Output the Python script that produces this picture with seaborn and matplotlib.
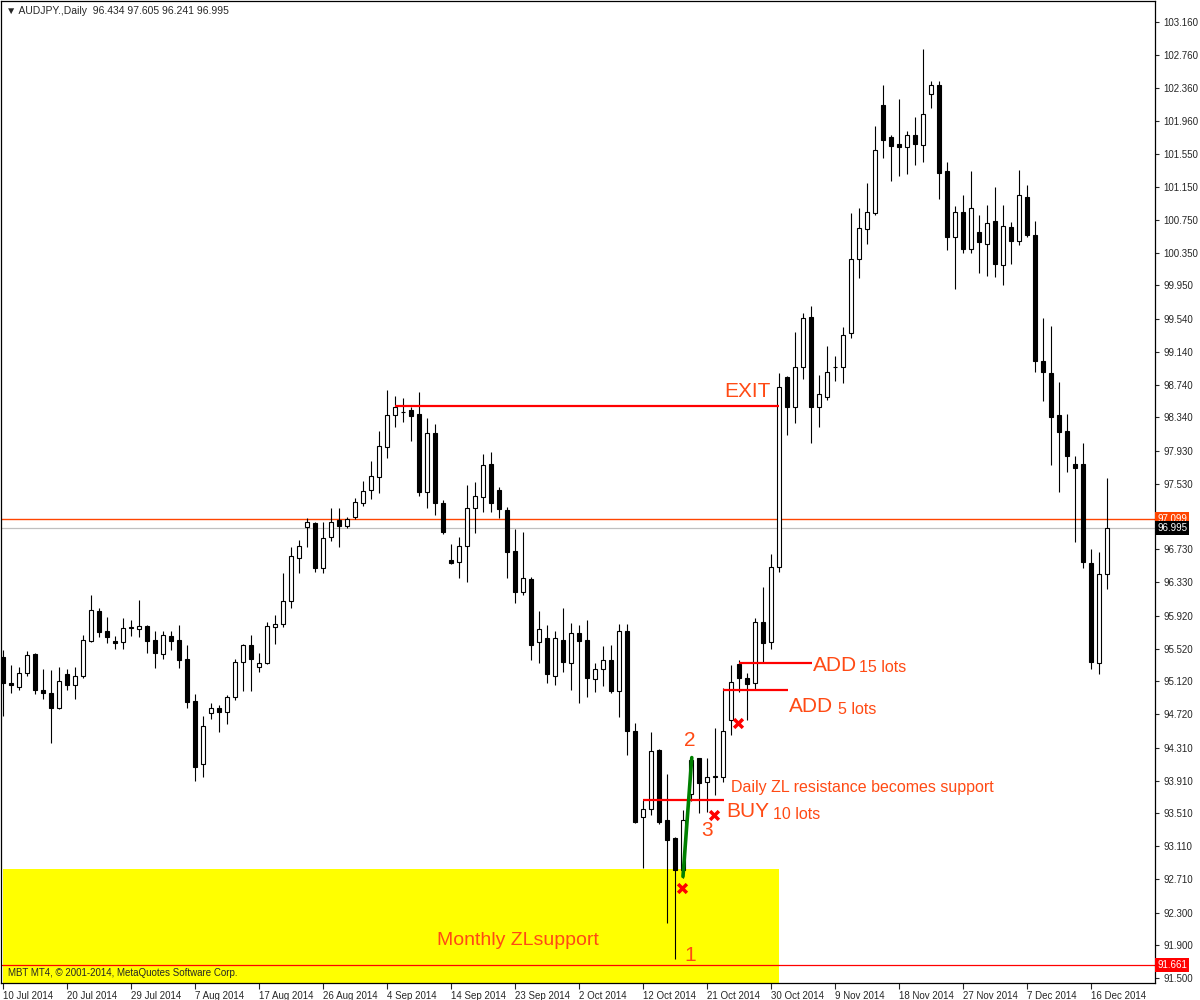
import matplotlib
matplotlib.use("Agg")
import matplotlib.pyplot as plt
import matplotlib.transforms as mtransforms
import seaborn as sns
import numpy as np
import pandas as pd

# daily AUDJPY candles, 10 Jul 2014 .. 18 Dec 2014
opens = [95.42, 95.10, 95.05, 95.22, 95.45, 95.02, 94.98, 94.80, 95.21, 95.08,
         95.18, 95.61, 95.98, 95.74, 95.61, 95.60, 95.77, 95.76, 95.80, 95.62,
         95.45, 95.67, 95.62, 95.39, 94.88, 94.11, 94.73, 94.79, 94.74, 94.93,
         95.35, 95.56, 95.30, 95.34, 95.78, 95.82, 96.10, 96.63, 97.00, 97.05,
         96.50, 96.88, 97.09, 97.01, 97.13, 97.29, 97.46, 97.61, 97.98, 98.37,
         98.41, 98.43, 98.38, 97.43, 98.15, 97.29, 96.60, 96.57, 96.77, 97.23,
         97.37, 97.77, 97.45, 97.21, 96.71, 96.21, 96.37, 95.60, 95.65, 95.18,
         95.63, 95.34, 95.71, 95.63, 95.15, 95.27, 95.38, 95.00, 95.73, 94.51,
         93.46, 93.56, 94.28, 93.43, 93.21, 92.82, 93.75, 94.18, 93.89, 93.95,
         93.95, 94.65, 95.33, 95.16, 95.10, 95.84, 95.60, 96.51, 98.83, 98.47,
         98.96, 99.57, 98.47, 98.59, 98.95, 98.96, 99.37, 100.27, 100.64, 100.83,
         102.15, 101.76, 101.68, 101.64, 101.78, 101.66, 102.29, 102.40, 101.34, 100.54,
         100.84, 100.40, 100.60, 100.45, 100.74, 100.20, 100.66, 100.49, 101.03, 100.56,
         99.03, 98.88, 98.37, 98.18, 97.77, 97.77, 96.56, 95.34, 96.434]
highs = [95.50, 95.32, 95.29, 95.49, 95.47, 95.27, 95.26, 95.30, 95.27, 95.29,
         95.69, 96.17, 96.01, 95.91, 95.67, 95.89, 95.87, 96.11, 95.81, 95.74,
         95.73, 95.74, 95.81, 95.56, 94.96, 94.70, 94.85, 94.83, 94.95, 95.39,
         95.57, 95.68, 95.46, 95.85, 95.93, 96.44, 96.76, 96.85, 97.11, 97.07,
         97.06, 97.23, 97.23, 97.13, 97.36, 97.57, 97.81, 98.18, 98.67, 98.60,
         98.58, 98.47, 98.65, 98.33, 98.26, 97.33, 96.79, 96.88, 97.51, 97.55,
         97.89, 97.92, 97.49, 97.25, 96.98, 96.94, 96.39, 95.98, 95.81, 95.74,
         96.01, 95.83, 95.81, 95.87, 95.34, 95.55, 95.56, 95.82, 95.82, 94.61,
         93.67, 94.50, 94.29, 93.99, 93.22, 93.55, 94.19, 94.19, 94.18, 94.55,
         95.04, 95.32, 95.38, 95.22, 95.89, 96.27, 96.67, 98.88, 98.85, 99.38,
         99.61, 99.70, 98.86, 99.21, 99.09, 99.44, 100.83, 100.90, 101.20, 101.90,
         102.39, 101.78, 102.22, 101.84, 102.00, 102.83, 102.45, 102.45, 101.45, 100.92,
         101.05, 101.34, 100.81, 100.93, 101.15, 100.93, 100.72, 101.36, 101.17, 100.73,
         99.55, 99.45, 98.77, 98.38, 97.87, 98.03, 96.73, 96.70, 97.605]
lows = [94.70, 94.98, 95.02, 95.19, 94.96, 94.90, 94.37, 94.78, 95.01, 94.91,
        95.16, 95.60, 95.66, 95.59, 95.52, 95.52, 95.67, 95.66, 95.46, 95.28,
        95.39, 95.50, 95.28, 94.80, 93.91, 93.95, 94.66, 94.50, 94.60, 94.89,
        95.00, 95.00, 95.24, 95.33, 95.57, 95.78, 96.01, 96.44, 96.76, 96.45,
        96.44, 96.83, 96.76, 96.99, 97.10, 97.26, 97.34, 97.42, 97.85, 98.22,
        98.29, 98.05, 97.38, 97.23, 97.15, 96.92, 96.55, 96.38, 96.33, 96.93,
        97.18, 97.18, 97.11, 96.38, 96.08, 96.17, 95.38, 95.34, 95.10, 95.08,
        95.24, 95.01, 94.85, 94.93, 94.99, 95.06, 94.98, 94.68, 94.22, 93.39,
        92.84, 93.49, 93.38, 92.17, 91.73, 92.72, 93.66, 93.52, 93.53, 93.73,
        93.89, 94.47, 94.99, 94.65, 95.01, 95.35, 95.51, 96.45, 98.13, 98.27,
        98.81, 98.03, 98.22, 98.55, 98.78, 98.76, 99.31, 100.04, 100.45, 100.81,
        101.51, 101.22, 101.29, 101.31, 101.42, 101.45, 102.12, 101.00, 100.38, 99.91,
        100.34, 100.34, 100.10, 100.07, 100.05, 99.96, 100.21, 100.44, 100.54, 98.89,
        98.54, 97.76, 97.43, 97.68, 96.82, 96.50, 95.27, 95.21, 96.241]
closes = [95.10, 95.08, 95.22, 95.44, 95.02, 94.98, 94.79, 95.13, 95.08, 95.19,
          95.62, 95.99, 95.72, 95.66, 95.59, 95.77, 95.78, 95.80, 95.61, 95.46,
          95.68, 95.61, 95.38, 94.87, 94.08, 94.58, 94.79, 94.74, 94.93, 95.35,
          95.56, 95.39, 95.34, 95.79, 95.82, 96.10, 96.65, 96.77, 97.06, 96.50,
          96.87, 97.07, 97.01, 97.10, 97.31, 97.44, 97.62, 97.99, 98.37, 98.47,
          98.40, 98.36, 97.43, 98.15, 97.29, 96.94, 96.56, 96.77, 97.23, 97.38,
          97.76, 97.29, 97.22, 96.70, 96.21, 96.38, 95.56, 95.76, 95.21, 95.65,
          95.35, 95.71, 95.61, 95.16, 95.27, 95.38, 95.00, 95.73, 94.51, 93.41,
          93.56, 94.27, 93.40, 93.19, 92.82, 93.43, 94.16, 93.88, 93.95, 93.96,
          94.51, 95.11, 95.16, 95.09, 95.84, 95.59, 96.51, 98.71, 98.47, 98.96,
          99.55, 98.47, 98.63, 98.89, 98.96, 99.34, 100.27, 100.65, 100.85, 101.60,
          101.73, 101.65, 101.64, 101.78, 101.68, 102.04, 102.40, 101.32, 100.54, 100.84,
          100.40, 100.90, 100.48, 100.71, 100.21, 100.67, 100.49, 101.05, 100.56, 99.03,
          98.89, 98.34, 98.16, 97.87, 97.72, 96.57, 95.35, 96.43, 96.995]

date_labels = ["10 Jul 2014", "20 Jul 2014", "29 Jul 2014", "7 Aug 2014", "17 Aug 2014",
               "26 Aug 2014", "4 Sep 2014", "14 Sep 2014", "23 Sep 2014", "2 Oct 2014",
               "12 Oct 2014", "21 Oct 2014", "30 Oct 2014", "9 Nov 2014", "18 Nov 2014",
               "27 Nov 2014", "7 Dec 2014", "16 Dec 2014"]
price_ticks = [103.160, 102.760, 102.360, 101.960, 101.550, 101.150, 100.750, 100.350,
               99.950, 99.540, 99.140, 98.740, 98.340, 97.930, 97.530, 97.130, 96.730,
               96.330, 95.920, 95.520, 95.120, 94.720, 94.310, 93.910, 93.510, 93.110,
               92.710, 92.300, 91.900, 91.500]

# drawn levels / annotations
ask_line = 97.099
bid_line = 96.995
monthly_low = 91.661
zone_top = 92.83
exit_level = 98.48
add15_level = 95.34
add5_level = 95.02
buy_level = 93.67
swing_x = [85, 86.1]
swing_y = [92.74, 94.19]
cross_x = [84.9, 88.9, 91.9]
cross_y = [92.60, 93.49, 94.61]

sns.set_style("white")
plt.rcParams['font.family'] = ['Liberation Sans', 'DejaVu Sans']

df = pd.DataFrame({"open": opens, "high": highs, "low": lows, "close": closes})
df["bar"] = np.arange(len(df))
up = df[df.close >= df.open]
down = df[df.close < df.open]

fig = plt.figure(figsize=(12, 10), dpi=100)
ax = fig.add_axes([0.0008, 0.017, 0.9617, 0.982])

orange = "#FF4A14"

# yellow monthly support zone
ax.fill_between([0, 97], 90.0, zone_top, color="#FFFF00", lw=0, zorder=0)

ax.axhline(ask_line, color="#FF4500", lw=1.0, zorder=1)
ax.axhline(bid_line, color="#C0C0C0", lw=0.9, zorder=1)
ax.axhline(monthly_low, color="#FF0000", lw=0.9, zorder=1)

# candles
ax.vlines(df.bar, df.low, df.high, color="black", lw=0.8, zorder=2)
ax.bar(up.bar, up.close - up.open, bottom=up.open, width=0.6,
       color="white", edgecolor="black", lw=0.8, zorder=3)
ax.bar(down.bar, down.open - down.close, bottom=down.close, width=0.6,
       color="black", edgecolor="black", lw=0.8, zorder=3)

# trade levels
ax.hlines(exit_level, 49, 97, color="#FF0000", lw=1.6, zorder=4)
ax.hlines(add15_level, 92, 101.1, color="#FF0000", lw=1.6, zorder=4)
ax.hlines(add5_level, 90, 98.1, color="#FF0000", lw=1.6, zorder=4)
ax.hlines(buy_level, 80, 90.1, color="#FF0000", lw=1.6, zorder=4)

sns.lineplot(x=swing_x, y=swing_y, color="#008000", lw=2.6, sort=False, ax=ax, zorder=5)
sns.scatterplot(x=cross_x, y=cross_y, marker="x", s=40, color="#FF0000",
                linewidth=2.5, ax=ax, zorder=6)

ax.text(90.1, 98.65, "EXIT", color=orange, fontsize=15, va="center", ha="left")
ax.text(101.25, 95.31, "ADD", color=orange, fontsize=15, va="center", ha="left")
ax.text(107.0, 95.29, "15 lots", color=orange, fontsize=11.5, va="center", ha="left")
ax.text(98.25, 94.81, "ADD", color=orange, fontsize=15, va="center", ha="left")
ax.text(104.4, 94.78, "5 lots", color=orange, fontsize=11.5, va="center", ha="left")
ax.text(91.0, 93.83, "Daily ZL resistance becomes support", color=orange,
        fontsize=11.5, va="center", ha="left")
ax.text(90.4, 93.53, "BUY", color=orange, fontsize=15, va="center", ha="left")
ax.text(96.25, 93.49, "10 lots", color=orange, fontsize=11.5, va="center", ha="left")
ax.text(85.9, 94.40, "2", color=orange, fontsize=15, va="center", ha="center")
ax.text(88.0, 93.30, "3", color=orange, fontsize=15, va="center", ha="center")
ax.text(85.9, 91.78, "1", color=orange, fontsize=15, va="center", ha="center")
ax.text(54.25, 91.96, "Monthly ZLsupport", color=orange, fontsize=14,
        va="center", ha="left")

ax.text(0.004, 0.995, "\u25BC AUDJPY.,Daily  96.434 97.605 96.241 96.995",
        transform=ax.transAxes, fontsize=7.5, va="top", ha="left")
ax.text(0.006, 0.010, "MBT MT4, \u00A9 2001-2014, MetaQuotes Software Corp.",
        transform=ax.transAxes, fontsize=7, va="center", ha="left")

# axes
ax.set_xlim(-0.25, 144)
ax.set_ylim(91.44, 103.42)
ax.set_xticks(np.arange(len(date_labels)) * 8)
ax.set_xticklabels(date_labels, ha="left", fontsize=7)
ax.yaxis.tick_right()
ax.set_yticks(price_ticks)
# 97.130 sits under the ask-price box, as on the terminal scale
ax.set_yticklabels(["" if abs(p - 97.13) < 1e-6 else f"{p:.3f}" for p in price_ticks],
                   fontsize=7)
ax.tick_params(axis="y", direction="out", length=3, width=0.8, pad=3, right=True)
ax.tick_params(axis="x", direction="out", length=4, width=0.8, pad=2, bottom=True)
for s in ax.spines.values():
    s.set_color("black")
    s.set_linewidth(0.9)
ax.set_xlabel("")
ax.set_ylabel("")

# price boxes on the scale
trans = mtransforms.blended_transform_factory(ax.transAxes, ax.transData)
for val, fc in [(ask_line, "#FF4500"), (bid_line, "black"), (monthly_low, "#FF0000")]:
    ax.text(1.002, val, f"{val:.3f}", transform=trans, fontsize=7, color="white",
            va="center", ha="left", zorder=10, clip_on=False,
            bbox=dict(boxstyle="square,pad=0.2", fc=fc, ec="none"))

fig.savefig("out.png", dpi=100, facecolor="white")
